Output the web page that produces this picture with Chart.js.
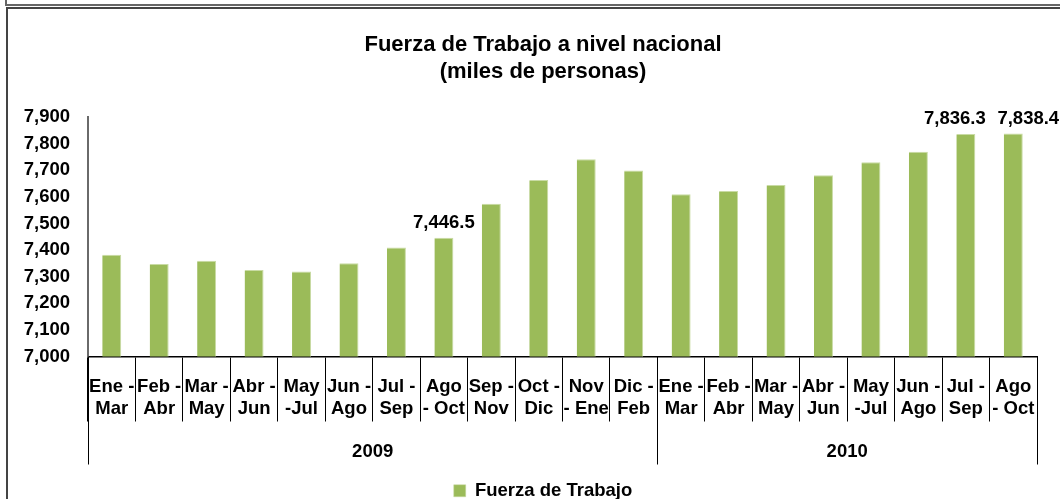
<!DOCTYPE html>
<html>
<head>
<meta charset="utf-8">
<script src="https://cdn.jsdelivr.net/npm/chart.js@4.4.0/dist/chart.umd.min.js"></script>
<style>
  html, body { margin: 0; padding: 0; background: #fff; overflow: hidden; }
  #wrap { position: relative; width: 1060px; height: 499px; overflow: hidden; }
  .frame-top { position: absolute; left: 5px; top: -20px; width: 1200px; height: 22px; border: 2px solid #666; }
  .frame { position: absolute; left: 6px; top: 7px; width: 1200px; height: 600px; border: 2px solid #444; }
  canvas { position: absolute; left: 0; top: 0; }
</style>
</head>
<body>
<div id="wrap">
  <div class="frame-top"></div>
  <div class="frame"></div>
  <canvas id="chart" width="1086" height="510"></canvas>
</div>
<script>
// periodos trimestrales móviles (dos líneas por etiqueta)
const periods = [
  ["Ene -", "Mar"], ["Feb -", "Abr"], ["Mar -", "May"], ["Abr -", "Jun"],
  ["May", "-Jul"], ["Jun -", "Ago"], ["Jul -", "Sep"], ["Ago", "- Oct"],
  ["Sep -", "Nov"], ["Oct -", "Dic"], ["Nov", "- Ene"], ["Dic -", "Feb"],
  ["Ene -", "Mar"], ["Feb -", "Abr"], ["Mar -", "May"], ["Abr -", "Jun"],
  ["May", "-Jul"], ["Jun -", "Ago"], ["Jul -", "Sep"], ["Ago", "- Oct"]
];
const years = ["2009", "2010"];
const periodsPerYear = [12, 8];

const fuerzaTrabajo = [
  7383, 7348, 7360, 7325, 7320, 7351, 7410, 7446.5, 7574, 7664, 7742, 7699,
  7610, 7622, 7645, 7681, 7730, 7770, 7836.3, 7838.4
];
// barras con etiqueta de valor
const labelledBars = [7, 18, 19];

const yMin = 7000, yMax = 7900, yStep = 100;

const FONT = '"Liberation Sans", Arial, sans-serif';
Chart.defaults.font.family = FONT;
Chart.defaults.color = "#000";

function fmt(v, dec) {
  const parts = v.toFixed(dec).split(".");
  parts[0] = parts[0].replace(/\B(?=(\d{3})+(?!\d))/g, ",");
  return parts.join(".");
}

// etiquetas del eje x, años y separadores
const axisLabels = {
  id: "axisLabels",
  afterDraw(chart) {
    const ctx = chart.ctx;
    const xs = chart.scales.x;
    const step = xs.width / periods.length;
    ctx.save();
    ctx.fillStyle = "#000";
    ctx.font = "bold 18.5px " + FONT;
    ctx.textAlign = "center";
    ctx.textBaseline = "middle";
    periods.forEach((lines, i) => {
      const cx = xs.getPixelForValue(i);
      lines.forEach((t, j) => ctx.fillText(t, cx, xs.top + 30 + j * 22));
    });

    ctx.strokeStyle = "#000";
    ctx.lineWidth = 1;
    let start = 0;
    const seps = [0];
    years.forEach((y, k) => {
      const end = start + periodsPerYear[k];
      const x0 = xs.getPixelForValue(start) - step / 2;
      const x1 = xs.getPixelForValue(end - 1) + step / 2;
      ctx.fillText(y, (x0 + x1) / 2, xs.top + 95);
      seps.push(end);
      start = end;
    });
    seps.forEach(s => {
      const x = Math.round(xs.getPixelForValue(s) - step / 2) + 0.5;
      ctx.beginPath();
      ctx.moveTo(x, xs.top);
      ctx.lineTo(x, xs.top + 108);
      ctx.stroke();
    });
    ctx.restore();
  }
};

// valores sobre algunas barras
const valueLabels = {
  id: "valueLabels",
  afterDatasetsDraw(chart) {
    const ctx = chart.ctx;
    const meta = chart.getDatasetMeta(0);
    const shift = { 7: 0, 18: -11, 19: 15 };
    ctx.save();
    ctx.fillStyle = "#000";
    ctx.font = "bold 18.5px " + FONT;
    ctx.textAlign = "center";
    ctx.textBaseline = "middle";
    labelledBars.forEach(i => {
      const bar = meta.data[i];
      ctx.fillText(fmt(fuerzaTrabajo[i], 1), bar.x + (shift[i] || 0), bar.y - 15);
    });
    ctx.restore();
  }
};

const ctx = document.getElementById("chart").getContext("2d");
new Chart(ctx, {
  type: "bar",
  data: {
    labels: periods.map(p => p.join(" ")),
    datasets: [{
      label: "Fuerza de Trabajo",
      data: fuerzaTrabajo,
      backgroundColor: "#9BBB59",
      borderColor: "#c9dba4",
      borderWidth: { top: 1, right: 1, left: 0, bottom: 0 },
      barPercentage: 0.4,
      categoryPercentage: 1
    }]
  },
  options: {
    responsive: false,
    animation: false,
    devicePixelRatio: 1,
    layout: { padding: { left: 0, right: 0, top: 0, bottom: 0 } },
    plugins: {
      title: {
        display: true,
        text: ["Fuerza de Trabajo a nivel nacional", "(miles de personas)"],
        color: "#000",
        font: { size: 22, weight: "bold", lineHeight: 1.23 },
        padding: { top: 31.5, bottom: 31.5 }
      },
      legend: {
        position: "bottom",
        labels: {
          boxWidth: 12,
          boxHeight: 12,
          padding: 0,
          color: "#000",
          font: { size: 18.5, weight: "bold" }
        }
      },
      tooltip: { enabled: false }
    },
    scales: {
      x: {
        grid: {
          offset: true,
          drawOnChartArea: false,
          drawTicks: true,
          tickLength: 65,
          color: "#000",
          lineWidth: 1
        },
        border: { display: true, color: "#000", width: 1.5 },
        ticks: { display: false },
        afterFit(scale) { scale.height = 125; }
      },
      y: {
        min: yMin,
        max: yMax,
        grid: { display: false, drawTicks: false },
        border: { display: true, color: "#6a6a6a", width: 2 },
        ticks: {
          stepSize: yStep,
          autoSkip: false,
          padding: 18,
          color: "#000",
          font: { size: 18.5, weight: "bold" },
          callback: v => fmt(v, 0)
        },
        afterFit(scale) { scale.width = 88; }
      },
      // eje derecho vacío: sólo reserva espacio para centrar título y leyenda
      yRight: {
        type: "linear",
        position: "right",
        display: true,
        grid: { display: false, drawTicks: false },
        border: { display: false },
        ticks: { display: false },
        afterFit(scale) { scale.width = 49; }
      }
    }
  },
  plugins: [axisLabels, valueLabels]
});
</script>
</body>
</html>
